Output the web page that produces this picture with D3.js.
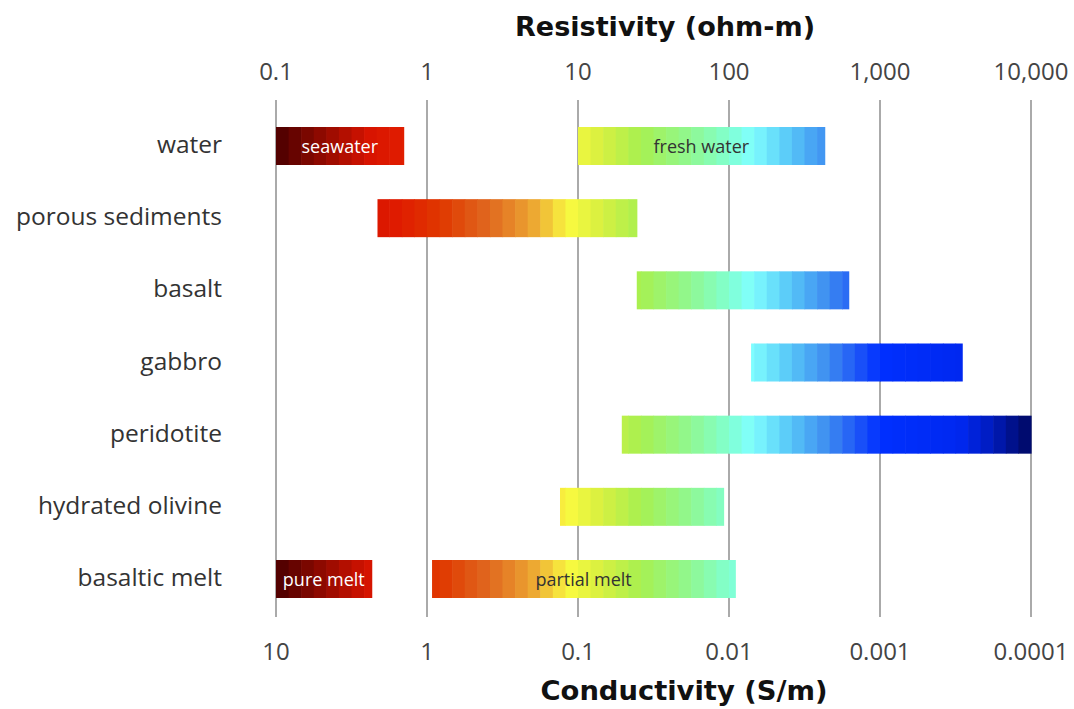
<!DOCTYPE html>
<html lang="en">
<head>
<meta charset="UTF-8">
<title>Resistivity and conductivity of materials</title>
<script src="https://d3js.org/d3.v7.min.js"></script>
<style>
  body { margin: 0; background: #fff; }
  svg text { font-family: "Open Sans", sans-serif; }
</style>
</head>
<body>
<script>
  // rows, top to bottom
  var materials = ["water", "porous sediments", "basalt", "gabbro", "peridotite", "hydrated olivine", "basaltic melt"];

  // resistivity ranges (ohm-m)
  var ranges = [
    { material: "water", lo: 0.1, hi: 0.7, label: "seawater", labelColor: "#fff" },
    { material: "water", lo: 10, hi: 430, label: "fresh water", labelColor: "#333" },
    { material: "porous sediments", lo: 0.47, hi: 24.5 },
    { material: "basalt", lo: 24.5, hi: 620 },
    { material: "gabbro", lo: 140, hi: 3500 },
    { material: "peridotite", lo: 19.5, hi: 10000 },
    { material: "hydrated olivine", lo: 7.6, hi: 92 },
    { material: "basaltic melt", lo: 0.1, hi: 0.43, label: "pure melt", labelColor: "#fff" },
    { material: "basaltic melt", lo: 1.08, hi: 110, label: "partial melt", labelColor: "#333" }
  ];

  var resistivityTicks = [0.1, 1, 10, 100, 1000, 10000];
  var conductivityTicks = ["10", "1", "0.1", "0.01", "0.001", "0.0001"];

  var width = 1074, height = 709;

  var svg = d3.select("body").append("svg")
    .attr("width", width)
    .attr("height", height);

  var x = d3.scaleLog().domain([0.1, 10000]).range([276, 1031]);
  var y = d3.scalePoint().domain(materials).range([146, 579]);
  var barH = 38;

  // jet-like colour ramp over log10 resistivity
  var color = d3.scaleLinear()
    .domain([-1, -0.38, -0.18, 0.09, 0.42, 0.68, 0.85, 0.93, 1.15, 1.41, 1.74, 2.0, 2.15, 2.4, 2.67, 2.87, 3.0, 3.53, 3.73, 4.0])
    .range(["#4a0000", "#d81400", "#e01c00", "#e03800", "#e06a20", "#eca030", "#f4d83c", "#fafa40",
            "#d8f040", "#a8f050", "#90f890", "#80ffd0", "#80ffff", "#58c8f8", "#3c88f0", "#1a50f8",
            "#0030ff", "#0028f0", "#001cc0", "#000860"])
    .interpolate(d3.interpolateRgb);

  // grid lines
  svg.append("g")
    .selectAll("line")
    .data(resistivityTicks)
    .join("line")
    .attr("x1", d => x(d))
    .attr("x2", d => x(d))
    .attr("y1", 100)
    .attr("y2", 617)
    .attr("stroke", "#aaa")
    .attr("stroke-width", 2);

  // stepped bars
  var step = 1 / 12;
  var bars = svg.append("g");
  ranges.forEach(function(r) {
    var a = Math.log10(r.lo), b = Math.log10(r.hi);
    var segs = [];
    var s = a;
    while (s < b - 1e-9) {
      var e = Math.min(b, (Math.floor((s + 1e-9) / step) + 1) * step);
      segs.push([s, e]);
      s = e;
    }
    bars.append("g")
      .selectAll("rect")
      .data(segs)
      .join("rect")
      .attr("x", d => x(Math.pow(10, d[0])))
      .attr("width", d => x(Math.pow(10, d[1])) - x(Math.pow(10, d[0])) + 0.6)
      .attr("y", y(r.material) - barH / 2)
      .attr("height", barH)
      .attr("fill", d => color((d[0] + d[1]) / 2));

    if (r.label) {
      bars.append("text")
        .attr("x", (x(r.lo) + x(r.hi)) / 2)
        .attr("y", y(r.material) + 7)
        .attr("text-anchor", "middle")
        .style("font-size", "18px")
        .attr("fill", r.labelColor)
        .text(r.label);
    }
  });

  // category labels
  svg.append("g")
    .selectAll("text")
    .data(materials)
    .join("text")
    .attr("x", 222)
    .attr("y", d => y(d) + 7)
    .attr("text-anchor", "end")
    .style("font-size", "24.5px")
    .attr("fill", "#333")
    .text(d => d);

  // top axis: resistivity
  svg.append("g")
    .selectAll("text")
    .data(resistivityTicks)
    .join("text")
    .attr("x", d => x(d))
    .attr("y", 80)
    .attr("text-anchor", "middle")
    .style("font-size", "24px")
    .attr("fill", "#444")
    .text(d => d3.format(",")(d));

  svg.append("text")
    .attr("x", 665)
    .attr("y", 36)
    .attr("text-anchor", "middle")
    .attr("textLength", 300)
    .attr("lengthAdjust", "spacingAndGlyphs")
    .style("font-family", "'DejaVu Sans', sans-serif")
    .style("font-weight", "bold")
    .style("font-size", "26px")
    .attr("fill", "#111")
    .text("Resistivity (ohm-m)");

  // bottom axis: conductivity = 1 / resistivity
  svg.append("g")
    .selectAll("text")
    .data(conductivityTicks)
    .join("text")
    .attr("x", d => x(1 / +d))
    .attr("y", 660)
    .attr("text-anchor", "middle")
    .style("font-size", "24px")
    .attr("fill", "#444")
    .text(d => d);

  svg.append("text")
    .attr("x", 684)
    .attr("y", 700)
    .attr("text-anchor", "middle")
    .attr("textLength", 287)
    .attr("lengthAdjust", "spacingAndGlyphs")
    .style("font-family", "'DejaVu Sans', sans-serif")
    .style("font-weight", "bold")
    .style("font-size", "26px")
    .attr("fill", "#111")
    .text("Conductivity (S/m)");
</script>
</body>
</html>
